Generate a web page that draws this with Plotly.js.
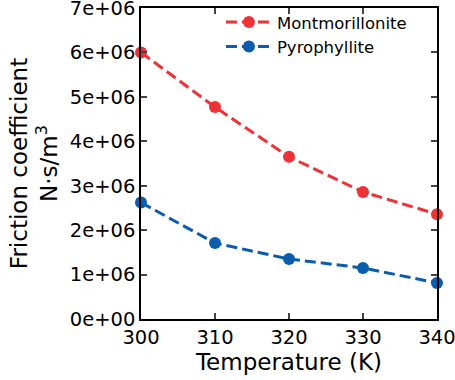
<!DOCTYPE html>
<html>
<head>
<meta charset="utf-8">
<script src="https://cdn.plot.ly/plotly-3.0.1.min.js"></script>
<style>html,body{margin:0;padding:0;background:#fff;}#chart{width:455px;height:380px;}</style>
</head>
<body>
<div id="chart"></div>
<script>
const temperature = [300, 310, 320, 330, 340];
const montmorillonite = [6.0e6, 4.77e6, 3.65e6, 2.86e6, 2.36e6];
const pyrophyllite = [2.62e6, 1.71e6, 1.35e6, 1.15e6, 0.81e6];
const yTickVals = [0, 1e6, 2e6, 3e6, 4e6, 5e6, 6e6, 7e6];
const yTickText = ["0e+00", "1e+06", "2e+06", "3e+06", "4e+06", "5e+06", "6e+06", "7e+06"];
const xTickVals = [300, 310, 320, 330, 340];

const font = "'DejaVu Sans', sans-serif";
const traces = [
  {x: temperature, y: montmorillonite, name: "Montmorillonite", mode: "lines+markers", cliponaxis: false,
   line: {color: "#ee3236", width: 3, dash: "11px,5px"}, marker: {color: "#ee3236", size: 12}},
  {x: temperature, y: pyrophyllite, name: "Pyrophyllite", mode: "lines+markers", cliponaxis: false,
   line: {color: "#0a5cad", width: 3, dash: "11px,5px"}, marker: {color: "#0a5cad", size: 12}}
];
const layout = {
  width: 455, height: 380,
  margin: {l: 141, r: 18, t: 5, b: 61},
  paper_bgcolor: "#fff", plot_bgcolor: "#fff",
  font: {family: font, color: "#000", size: 19.5},
  showlegend: true,
  legend: {x: 0.27, y: 1.01, xanchor: "left", yanchor: "top", bgcolor: "rgba(0,0,0,0)",
           font: {size: 16.5}, tracegroupgap: 0, itemwidth: 46},
  xaxis: {range: [300, 340], tickvals: xTickVals, ticks: "inside", ticklen: 6, tickwidth: 1.5,
          showline: true, linecolor: "#000", linewidth: 1.5, mirror: "ticks", showgrid: false, zeroline: false,
          ticklabeloverflow: "allow",
          tickfont: {size: 19.5}, title: {text: "Temperature (K)", font: {size: 23}, standoff: 0}},
  yaxis: {range: [0, 7e6], tickvals: yTickVals, ticktext: yTickText, ticks: "inside", ticklen: 6, tickwidth: 1.5,
          showline: true, linecolor: "#000", linewidth: 1.5, mirror: "ticks", showgrid: false, zeroline: false,
          ticklabeloverflow: "allow",
          tickfont: {size: 19.5}, title: {text: "Friction coefficient<br>N·s/m<sup>3</sup>", font: {size: 23}, standoff: 6}}
};
Plotly.newPlot("chart", traces, layout, {displayModeBar: false});
</script>
</body>
</html>
